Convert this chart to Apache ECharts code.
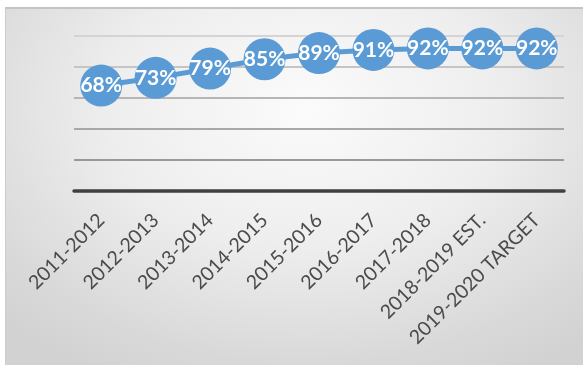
<!DOCTYPE html>
<html>
<head>
<meta charset="utf-8">
<script src="https://cdn.jsdelivr.net/npm/echarts@6/dist/echarts.min.js"></script>
<style>
  html, body { margin: 0; padding: 0; background: #ffffff; width: 583px; height: 365px; overflow: hidden; }
  #frame {
    position: absolute; left: 5px; top: 7px; width: 578px; height: 358px;
    box-sizing: border-box;
    border-top: 2px solid #c4c4c4; border-left: 1px solid #cdcdcd;
    background: radial-gradient(ellipse 75% 85% at 52% 28%, #fbfbfb 0%, #eeeeee 45%, #d8d8d8 85%, #d2d2d2 100%);
  }
  #chart { position: absolute; left: 0; top: 0; width: 577px; height: 356px; }
</style>
</head>
<body>
<div id="frame"><div id="chart"></div></div>
<script>
const categories = ['2011-2012', '2012-2013', '2013-2014', '2014-2015', '2015-2016', '2016-2017', '2017-2018', '2018-2019 EST.', '2019-2020 TARGET'];
const values = [68, 73, 79, 85, 89, 91, 92, 92, 92];
const yTicks = [0, 20, 40, 60, 80, 100];

const chart = echarts.init(document.getElementById('chart'), null, { renderer: 'canvas' });
chart.setOption({
  backgroundColor: 'transparent',
  animation: false,
  grid: { left: 68, right: 19, top: 27, bottom: 174 },
  xAxis: {
    type: 'category',
    data: categories,
    boundaryGap: true,
    axisLine: { show: true, lineStyle: { color: '#404040', width: 3.5 } },
    axisTick: { show: false },
    axisLabel: {
      rotate: 45,
      margin: 26,
      color: '#4a4a4a',
      fontSize: 19.5,
      fontFamily: 'Lato',
      interval: 0
    }
  },
  yAxis: {
    type: 'value',
    min: yTicks[0],
    max: yTicks[yTicks.length - 1],
    interval: 20,
    axisLine: { show: false },
    axisTick: { show: false },
    axisLabel: { show: false },
    splitLine: { show: true, lineStyle: { width: 2, color: ['#404040', '#999999', '#a8a8a8', '#b6b6b6', '#c5c5c5', '#d4d4d4'] } }
  },
  series: [{
    type: 'line',
    data: values,
    symbol: 'circle',
    symbolSize: 42,
    itemStyle: { color: '#5B9BD5' },
    lineStyle: { color: '#5B9BD5', width: 5 },
    label: {
      show: true,
      position: 'inside',
      formatter: '{c}%',
      color: '#ffffff',
      fontWeight: 'bold',
      fontSize: 21,
      fontFamily: 'Lato'
    },
    z: 3
  }]
});
</script>
</body>
</html>
